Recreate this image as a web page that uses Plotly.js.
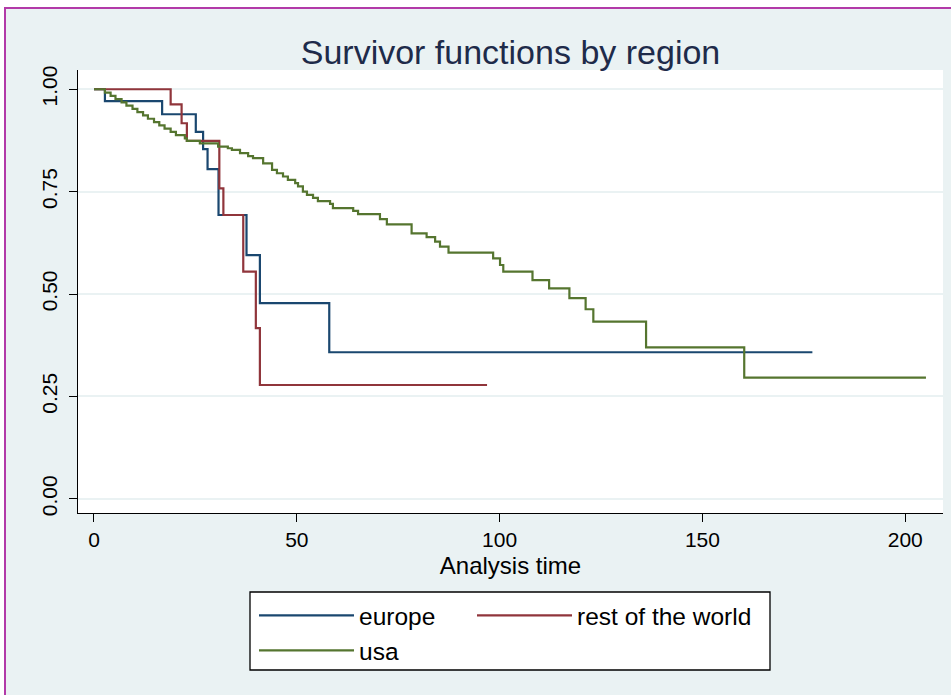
<!DOCTYPE html>
<html><head><meta charset="utf-8">
<script src="https://cdn.plot.ly/plotly-3.0.1.min.js"></script>
<style>
html,body{margin:0;padding:0;background:#fff;overflow:hidden;}
#frame{position:absolute;left:4px;top:7px;width:945px;height:686px;border-left:2px solid #B23AA8;border-top:2px solid #B23AA8;background:#EAF2F3;}
#chart{position:absolute;left:0;top:0;width:945px;height:686px;}
</style></head>
<body><div id="frame"><div id="chart"></div></div>
<script>
// ---- data ----
var seriesNames = ['europe', 'rest of the world', 'usa'];

var europeTime = [0, 2.7, 16.8, 25.1, 26.9, 28.0, 30.7, 37.6, 40.9, 58.0, 177.1];
var europeSurv = [1, 0.971, 0.939, 0.896, 0.854, 0.805, 0.693, 0.595, 0.478, 0.358, 0.358];

var restTime = [0, 18.9, 21.6, 22.9, 30.9, 31.9, 36.8, 39.9, 40.9, 96.9];
var restSurv = [1, 0.963, 0.917, 0.874, 0.758, 0.693, 0.555, 0.417, 0.278, 0.278];

var usaTime = [0, 2.7, 4.1, 5.3, 6.8, 8.0, 9.5, 10.7, 12.1, 13.3, 14.8, 16.1, 17.4, 18.9, 20.2, 22.4, 22.9, 26.1, 30.6, 33.0, 34.0, 36.0, 38.0, 39.2, 41.7, 43.9, 45.1, 46.6, 47.8, 49.6, 50.3, 51.5, 52.5, 54.0, 55.2, 58.2, 58.9, 63.9, 65.1, 70.5, 72.2, 78.3, 82.0, 84.1, 85.3, 87.4, 98.4, 100.1, 100.9, 108.1, 112.2, 117.2, 121.2, 123.1, 136.1, 160.3, 205.1];
var usaSurv = [1, 0.992, 0.984, 0.976, 0.968, 0.960, 0.952, 0.944, 0.936, 0.928, 0.920, 0.912, 0.904, 0.896, 0.888, 0.880, 0.874, 0.868, 0.860, 0.856, 0.852, 0.844, 0.837, 0.832, 0.819, 0.803, 0.795, 0.787, 0.779, 0.771, 0.763, 0.750, 0.742, 0.735, 0.727, 0.720, 0.710, 0.703, 0.695, 0.683, 0.670, 0.648, 0.639, 0.628, 0.616, 0.601, 0.587, 0.571, 0.555, 0.534, 0.514, 0.490, 0.463, 0.433, 0.370, 0.296, 0.296];

var xTickVals = [0, 50, 100, 150, 200];
var yTickVals = [0, 0.25, 0.5, 0.75, 1];
var yTickText = ['0.00', '0.25', '0.50', '0.75', '1.00'];

var titleText = 'Survivor functions by region';
var xTitleText = 'Analysis time';

var FONT = "'Liberation Sans', Arial, sans-serif";
var SZ = {title: 34, tick: 21, axis: 24, legend: 24.5};

var colors = ['#1A476F', '#90353B', '#55752F'];

var traces = [
  {x: europeTime, y: europeSurv, name: seriesNames[0], legend: 'legend', legendwidth: 108},
  {x: restTime, y: restSurv, name: seriesNames[1], legend: 'legend', legendwidth: 200},
  {x: usaTime, y: usaSurv, name: seriesNames[2], legend: 'legend2', legendwidth: 108}
].map(function(t, i){
  t.type = 'scatter'; t.mode = 'lines';
  t.line = {shape: 'hv', color: colors[i], width: 2.2};
  t.hoverinfo = 'x+y+name';
  return t;
});

var legendCommon = {
  orientation: 'h', xref: 'container', yref: 'container', xanchor: 'left', yanchor: 'top',
  bgcolor: 'rgba(0,0,0,0)', borderwidth: 0, itemwidth: 95,
  entrywidthmode: 'pixels',
  font: {family: FONT, size: SZ.legend, color: '#000'}, traceorder: 'normal'
};

var layout = {
  width: 945, height: 686,
  paper_bgcolor: '#EAF2F3', plot_bgcolor: '#FFFFFF',
  margin: {l: 72, r: 8, t: 61, b: 182},
  font: {family: FONT, color: '#000'},
  title: {text: titleText, x: 0.5, xref: 'paper', xanchor: 'center', y: 1 - 43/686, yref: 'container', yanchor: 'middle',
          font: {family: FONT, size: SZ.title, color: '#1E2B4A'}},
  xaxis: {range: [-3.94, 209.3], tickvals: xTickVals, ticks: 'outside', ticklen: 8, tickwidth: 1.2, tickcolor: '#000',
          showline: true, linecolor: '#000', linewidth: 1.2, showgrid: false, zeroline: false,
          tickfont: {family: FONT, size: SZ.tick, color: '#000'},
          title: {text: xTitleText, standoff: 6, font: {family: FONT, size: SZ.axis, color: '#000'}}},
  yaxis: {range: [-0.0344, 1.047], tickvals: yTickVals, ticktext: yTickText, tickangle: -90, ticks: 'outside', ticklen: 8,
          tickwidth: 1.2, tickcolor: '#000', showline: true, linecolor: '#000', linewidth: 1.2, ticklabelstandoff: 4,
          showgrid: true, gridcolor: '#EAF2F3', gridwidth: 1.5, zeroline: false,
          tickfont: {family: FONT, size: SZ.tick, color: '#000'}},
  legend: Object.assign({}, legendCommon, {x: 248/945, y: 1 - 584/686}),
  legend2: Object.assign({}, legendCommon, {x: 248/945, y: 1 - 619/686}),
  shapes: [{type: 'rect', xref: 'paper', yref: 'paper', x0: (244-72)/865, x1: (764-72)/865,
            y0: (504-661)/443, y1: (504-583)/443, line: {color: '#000', width: 1.3}, fillcolor: '#FFFFFF', layer: 'below'}],
  showlegend: true
};

Plotly.newPlot('chart', traces, layout, {displayModeBar: false, responsive: false});
</script>
</body></html>
